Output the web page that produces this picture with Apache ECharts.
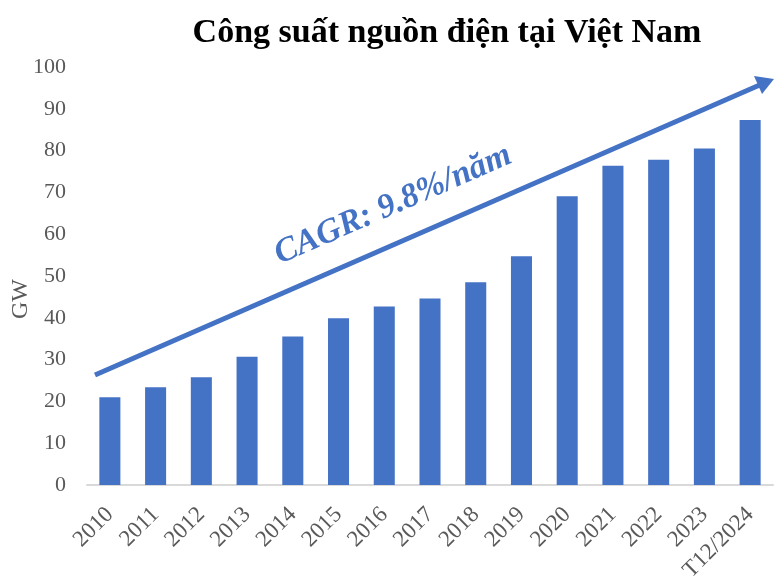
<!DOCTYPE html>
<html>
<head>
<meta charset="utf-8">
<script src="https://cdn.jsdelivr.net/npm/echarts@6/dist/echarts.min.js"></script>
<style>
  html, body { margin: 0; padding: 0; background: #fff; }
  #main { width: 774px; height: 577px; }
</style>
</head>
<body>
<div id="main"></div>
<script>
// dữ liệu
var years = ['2010', '2011', '2012', '2013', '2014', '2015', '2016', '2017',
             '2018', '2019', '2020', '2021', '2022', '2023', 'T12/2024'];
var capacity = [21.0, 23.4, 25.8, 30.7, 35.5, 39.9, 42.7, 44.6,
                48.5, 54.7, 69.1, 76.4, 77.8, 80.5, 87.3];
var yTicks = [0, 10, 20, 30, 40, 50, 60, 70, 80, 90, 100];

var blue = '#4472C4';
var grey = '#595959';
var serif = '"Liberation Serif", "DejaVu Serif", serif';

var myChart = echarts.init(document.getElementById('main'));

var option = {
  animation: false,
  title: {
    text: 'Công suất nguồn điện tại Việt Nam',
    left: 442,
    textAlign: 'center',
    top: 11,
    textStyle: { fontFamily: serif, fontWeight: 'bold', fontSize: 34, color: '#000' }
  },
  grid: { left: 87, right: 1, top: 67, bottom: 92, outerBoundsMode: 'none' },
  xAxis: {
    type: 'category',
    data: years,
    axisLine: { lineStyle: { color: '#D9D9D9', width: 2 } },
    axisTick: { show: false },
    axisLabel: {
      rotate: 45,
      interval: 0,
      margin: 26,
      fontFamily: serif,
      fontSize: 23,
      color: grey
    }
  },
  yAxis: {
    type: 'value',
    min: yTicks[0],
    max: yTicks[yTicks.length - 1],
    interval: 10,
    name: 'GW',
    nameLocation: 'middle',
    nameRotate: 90,
    nameGap: 54,
    nameMoveOverlap: false,
    nameTextStyle: { fontFamily: serif, fontSize: 24, color: grey, padding: [0, 46, 0, 0] },
    axisLine: { show: false },
    axisTick: { show: false },
    splitLine: { show: false },
    axisLabel: { margin: 21, fontFamily: serif, fontSize: 22, color: grey }
  },
  series: [{
    type: 'bar',
    data: capacity,
    barCategoryGap: '54%',
    itemStyle: { color: blue }
  }],
  graphic: [
    {
      type: 'line',
      shape: { x1: 95, y1: 375, x2: 762, y2: 84 },
      style: { stroke: blue, lineWidth: 5 }
    },
    {
      // đầu mũi tên
      type: 'polygon',
      shape: { points: [[774, 79], [754, 76], [762, 94]] },
      style: { fill: blue }
    },
    {
      type: 'text',
      x: 393,
      y: 205,
      rotation: 23.6 * Math.PI / 180,
      style: {
        text: 'CAGR: 9.8%/năm',
        fontFamily: serif,
        fontWeight: 'bold',
        fontStyle: 'italic',
        fontSize: 34,
        fill: blue,
        align: 'center',
        verticalAlign: 'middle'
      }
    }
  ]
};

myChart.setOption(option, true);
</script>
</body>
</html>
